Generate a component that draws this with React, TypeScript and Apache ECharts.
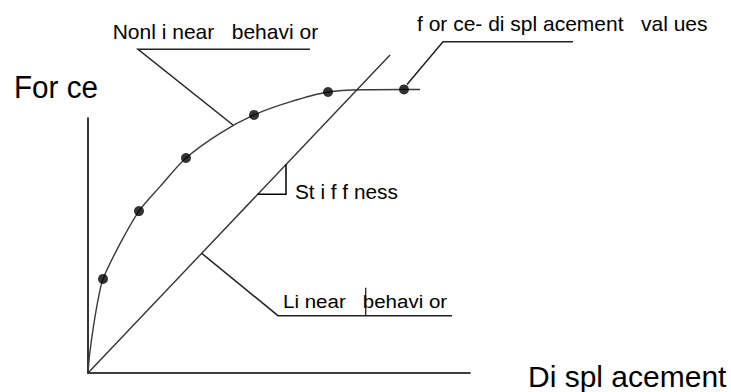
import React, { useEffect, useRef } from "react";
import * as echarts from "echarts";

// Measured force-displacement values (the black dots)
const displacement = [0.393, 1.335, 2.565, 4.346, 6.283, 8.272];
const force = [3.69, 6.35, 8.43, 10.12, 11.02, 11.12];

// Nonlinear behaviour curve (through origin and the dots)
const curveDisplacement = [0, 0.04, 0.14, 0.262, 0.393, 0.864, 1.335, 1.885, 2.565, 3.455, 4.346, 5.288, 6.283, 7.251, 8.272, 8.69];
const curveForce = [0, 0.7, 1.8, 2.86, 3.69, 5.14, 6.35, 7.31, 8.43, 9.4, 10.12, 10.63, 11.02, 11.11, 11.12, 11.12];

// Linear behaviour line
const linearDisplacement = [0, 7.906];
const linearForce = [0, 12.47];

// Stiffness triangle corner and annotation anchors (data units)
const stiffnessCorner = [5.183, 7.008];
const nonlinearAnchor = [3.796, 9.725];
const linearAnchorX = 2.976;

// Labels
const axisLabels = { force: "For ce", displacement: "Di spl acement" };
const noteLabels = {
  nonlinear: "Nonl i near   behavi or",
  values: "f or ce- di spl acement   val ues",
  linear: "Li near   behavi or",
  stiffness: "St i f f ness",
};

const FONT = "'Liberation Sans', Arial, sans-serif";

export default function App() {
  const ref = useRef<HTMLDivElement>(null);

  useEffect(() => {
    if (!ref.current) return;
    const chart = echarts.init(ref.current, undefined, { renderer: "svg" });
    const slope = linearForce[1] / linearDisplacement[1];

    const axisCommon = {
      type: "value" as const,
      min: 0,
      max: 10,
      axisLine: { show: true, lineStyle: { color: "#000", width: 1.6 } },
      axisTick: { show: false },
      axisLabel: { show: false },
      splitLine: { show: false },
    };

    chart.setOption({
      animation: false,
      backgroundColor: "#fff",
      grid: { left: 88, right: 261, top: 118, bottom: 19 },
      xAxis: axisCommon,
      yAxis: axisCommon,
      series: [
        {
          type: "line",
          data: curveDisplacement.map((x, i) => [x, curveForce[i]]),
          smooth: 0.3,
          showSymbol: false,
          symbol: "none",
          clip: false,
          lineStyle: { color: "#3a3a3a", width: 1.4 },
          z: 2,
        },
        {
          type: "line",
          data: linearDisplacement.map((x, i) => [x, linearForce[i]]),
          showSymbol: false,
          symbol: "none",
          clip: false,
          lineStyle: { color: "#333", width: 1.4 },
          z: 2,
        },
        {
          type: "scatter",
          data: displacement.map((x, i) => [x, force[i]]),
          symbolSize: 10,
          clip: false,
          itemStyle: { color: "#000" },
          z: 3,
        },
      ],
    });

    const px = (p: number[]) => chart.convertToPixel({ gridIndex: 0 }, p) as number[];

    const lastPt = px([displacement[displacement.length - 1], force[force.length - 1]]);
    const nlA = px(nonlinearAnchor);
    const linA = px([linearAnchorX, linearAnchorX * slope]);
    const triTop = px([stiffnessCorner[0], stiffnessCorner[0] * slope]);
    const triCorner = px(stiffnessCorner);
    const triLeft = px([stiffnessCorner[1] / slope, stiffnessCorner[1]]);

    const stroke = (points: number[][], w = 1.3, color = "#222") => ({
      type: "polyline",
      shape: { points },
      style: { stroke: color, lineWidth: w, fill: null },
      z: 5,
    });
    const text = (t: string, x: number, y: number, size: number, sx = 1) => ({
      type: "text",
      x,
      y,
      scaleX: sx,
      style: {
        text: t,
        fontSize: size,
        fontFamily: FONT,
        fill: "#000",
        align: "left",
        verticalAlign: "middle",
      },
      z: 6,
    });

    chart.setOption({
      graphic: [
        text(axisLabels.force, 14, 87.5, 31, 0.956),
        text(axisLabels.displacement, 528, 376, 30),
        text(noteLabels.nonlinear, 112.7, 31.7, 21),
        text(noteLabels.values, 417, 23.5, 20, 1.05),
        text(noteLabels.linear, 283, 301.7, 19, 1.08),
        text(noteLabels.stiffness, 295, 192, 20, 1.04),
        // Nonlinear leader + underline
        stroke([[310, 49.3], [138, 49.3], nlA], 1.5),
        // Values leader + underline
        stroke([[573, 41.7], [443, 41.7], [lastPt[0] + 3, lastPt[1] - 5]], 1.5),
        // Linear leader + underline + tick
        stroke([linA, [278, 315.7], [452, 315.7]], 1.5),
        stroke([[365.7, 287.7], [365.7, 315.7]], 1.3),
        // Stiffness triangle
        stroke([triTop, triCorner, triLeft], 1.5, "#000"),
      ],
    });

    return () => chart.dispose();
  }, []);

  return (
    <div
      ref={ref}
      style={{ position: "fixed", left: 0, top: 0, width: 731, height: 392, background: "#fff" }}
    />
  );
}
